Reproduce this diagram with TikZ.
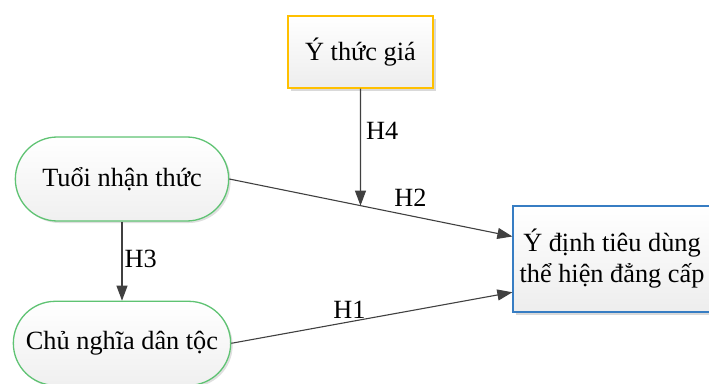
\documentclass[tikz,border=0pt]{standalone}
\usepackage{fontspec}
\setmainfont{Liberation Serif}
\usetikzlibrary{positioning,shapes.misc,arrows.meta,shadows,calc}
\definecolor{boxyellow}{RGB}{255,192,0}
\definecolor{boxgreen}{RGB}{95,195,115}
\definecolor{boxblue}{RGB}{55,125,195}
\definecolor{linegray}{RGB}{64,64,64}
\begin{document}
\begin{tikzpicture}[x=1pt, y=-1pt, font=\fontsize{26.3}{31}\selectfont,
	sqbox/.style={rectangle, line width=1.3pt, top color=white, bottom color=gray!14, drop shadow={shadow xshift=3pt, shadow yshift=-3pt, fill=gray!30, opacity=1}},
	ovalbox/.style={rounded rectangle, draw=boxgreen, line width=1.3pt, top color=white, bottom color=gray!12, drop shadow={shadow xshift=2pt, shadow yshift=-2pt, fill=gray!25, opacity=1}},
	conn/.style={draw=linegray, line width=1.1pt, -{Triangle[length=15pt, width=11pt]}},
	hlabel/.style={inner sep=2pt}]
	\useasboundingbox (0,0) rectangle (709,383);
	\node [ovalbox, minimum width=220pt, minimum height=84pt](tuoi_node) at (122,179) {Tuổi nhận thức};
	\node [ovalbox, minimum width=224pt, minimum height=84pt, below=79pt of tuoi_node](chunghia_node) {Chủ nghĩa dân tộc};
	\node [sqbox, draw=boxyellow, minimum width=145pt, minimum height=72pt](ythuc_node) at (360.5,52) {Ý thức giá};
	\node [sqbox, draw=boxblue, minimum width=198pt, minimum height=106pt, align=center](ydinh_node) at (612,259) {Ý định tiêu dùng\\thể hiện đẳng cấp};
	\coordinate (tip_a) at ($(ydinh_node.north west)!0.29!(ydinh_node.south west)$);
	\coordinate (tip_b) at ($(ydinh_node.north west)!0.81!(ydinh_node.south west)$);
	\coordinate (mod_point) at (intersection of tuoi_node.east--tip_a and ythuc_node.south--ythuc_node.north);
	\draw [conn] (tuoi_node.east) -- (tip_a) node [hlabel, pos=0.64, above=7pt] (h2_label) {H2};
	\draw [conn] (chunghia_node.east) -- (tip_b) node [hlabel, pos=0.42, above=1pt] (h1_label) {H1};
	\draw [conn] (tuoi_node.south) -- (chunghia_node.north) node [hlabel, pos=0.47, right] (h3_label) {H3};
	\draw [conn] (ythuc_node.south) -- (mod_point) node [hlabel, pos=0.36, right=3pt] (h4_label) {H4};
\end{tikzpicture}
\end{document}
